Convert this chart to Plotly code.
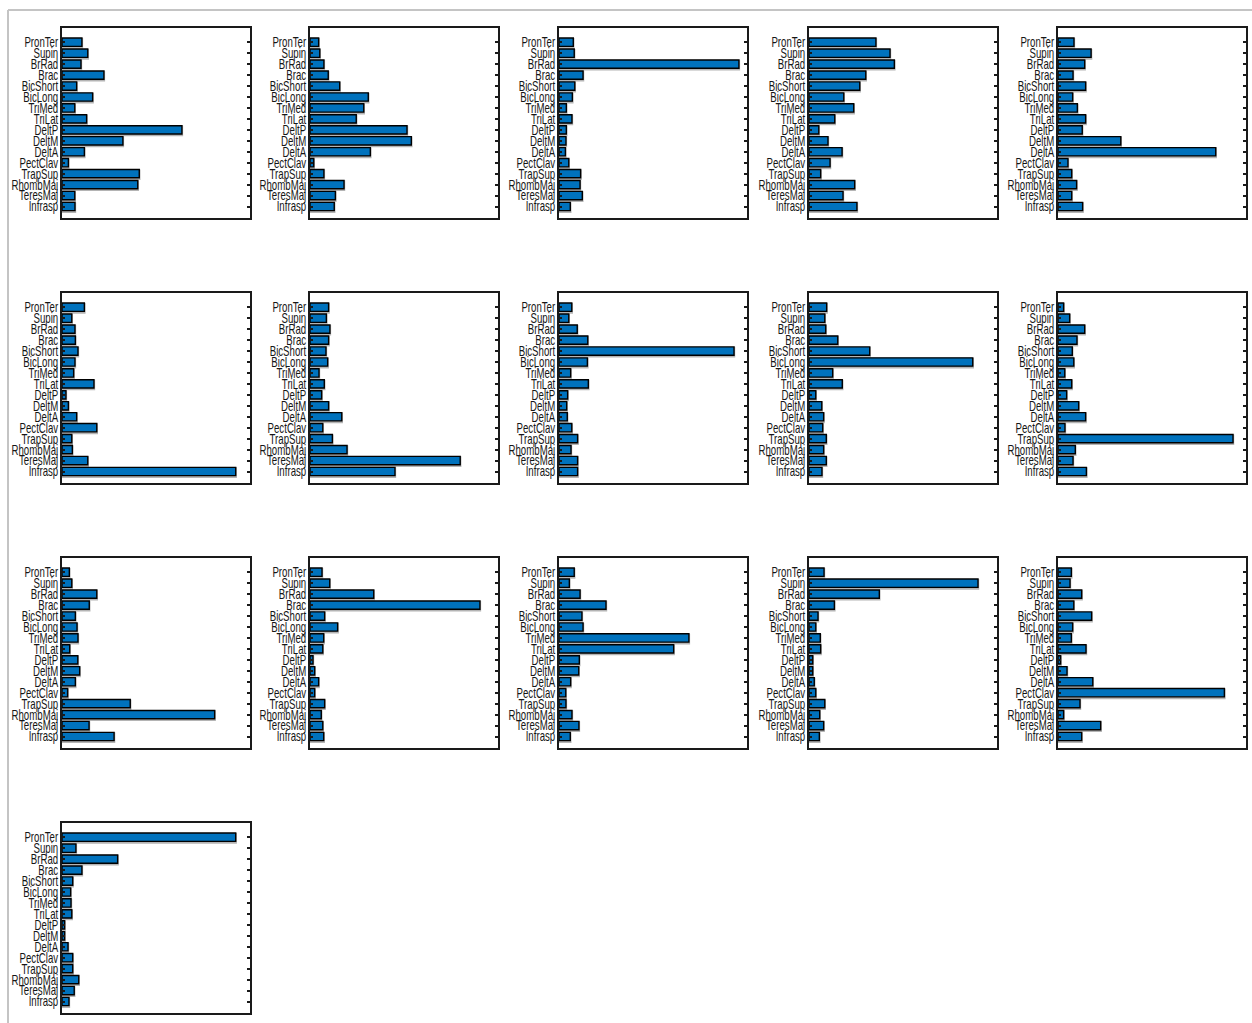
import plotly.graph_objects as go

muscles = ["PronTer", "Supin", "BrRad", "Brac", "BicShort", "BicLong", "TriMed", "TriLat",
           "DeltP", "DeltM", "DeltA", "PectClav", "TrapSup", "RhombMaj", "TeresMaj", "Infrasp"]

w01 = [0.106, 0.137, 0.101, 0.223, 0.078, 0.163, 0.068, 0.131, 0.638, 0.324, 0.119, 0.034, 0.411, 0.403, 0.068, 0.069]
w02 = [0.046, 0.052, 0.074, 0.097, 0.158, 0.310, 0.286, 0.246, 0.516, 0.539, 0.321, 0.020, 0.074, 0.181, 0.135, 0.129]
w03 = [0.076, 0.081, 0.957, 0.128, 0.084, 0.071, 0.039, 0.069, 0.039, 0.037, 0.034, 0.052, 0.115, 0.112, 0.124, 0.060]
w04 = [0.356, 0.431, 0.454, 0.302, 0.270, 0.185, 0.238, 0.137, 0.052, 0.101, 0.176, 0.112, 0.062, 0.243, 0.181, 0.255]
w05 = [0.085, 0.176, 0.142, 0.080, 0.147, 0.078, 0.103, 0.147, 0.129, 0.334, 0.839, 0.053, 0.073, 0.099, 0.073, 0.131]
w06 = [0.119, 0.052, 0.069, 0.071, 0.085, 0.069, 0.062, 0.170, 0.021, 0.034, 0.078, 0.185, 0.052, 0.055, 0.137, 0.924]
w07 = [0.099, 0.087, 0.106, 0.099, 0.085, 0.094, 0.048, 0.076, 0.062, 0.099, 0.169, 0.068, 0.119, 0.197, 0.799, 0.452]
w08 = [0.068, 0.052, 0.097, 0.153, 0.931, 0.151, 0.062, 0.156, 0.046, 0.041, 0.044, 0.068, 0.099, 0.064, 0.099, 0.099]
w09 = [0.094, 0.084, 0.089, 0.153, 0.323, 0.871, 0.126, 0.177, 0.036, 0.068, 0.078, 0.073, 0.092, 0.078, 0.092, 0.069]
w10 = [0.030, 0.062, 0.142, 0.101, 0.076, 0.084, 0.036, 0.073, 0.046, 0.110, 0.147, 0.037, 0.931, 0.092, 0.080, 0.151]
w11 = [0.039, 0.052, 0.185, 0.145, 0.071, 0.080, 0.085, 0.041, 0.084, 0.094, 0.071, 0.030, 0.363, 0.812, 0.144, 0.277]
w12 = [0.064, 0.105, 0.339, 0.904, 0.078, 0.147, 0.073, 0.068, 0.016, 0.025, 0.046, 0.025, 0.078, 0.060, 0.068, 0.073]
w13 = [0.081, 0.055, 0.112, 0.250, 0.122, 0.128, 0.691, 0.610, 0.108, 0.105, 0.062, 0.036, 0.037, 0.069, 0.106, 0.060]
w14 = [0.080, 0.899, 0.374, 0.135, 0.048, 0.036, 0.060, 0.062, 0.020, 0.020, 0.028, 0.036, 0.084, 0.057, 0.078, 0.055]
w15 = [0.071, 0.064, 0.126, 0.084, 0.179, 0.078, 0.071, 0.149, 0.014, 0.048, 0.185, 0.885, 0.117, 0.030, 0.227, 0.126]
w16 = [0.924, 0.074, 0.296, 0.106, 0.057, 0.046, 0.048, 0.052, 0.014, 0.014, 0.032, 0.057, 0.057, 0.089, 0.065, 0.037]

synergies = [w01, w02, w03, w04, w05, w06, w07, w08, w09, w10, w11, w12, w13, w14, w15, w16]

# ---- layout (pixels) ----
W, H = 1252, 1023
col_left = [62, 310, 559, 809, 1058]
row_top = [28, 293, 558, 823]
pw, ph = 188, 190
ncols = 5

BLUE = "#0072BD"
FONT = "Liberation Sans, Arial, sans-serif"
BAR_W = 0.76

fig = go.Figure()
layout = {}
for k, vals in enumerate(synergies):
    r, c = divmod(k, ncols)
    idx = "" if k == 0 else str(k + 1)
    xa, ya = "x" + idx, "y" + idx
    # soft grey drop shadow under each bar
    fig.add_trace(go.Bar(
        x=vals, y=muscles, orientation="h", xaxis=xa, yaxis=ya,
        width=BAR_W, offset=-BAR_W / 2 + 0.1,
        marker=dict(color="#a8a8a8", line=dict(color="#b4b4b4", width=2.4)),
        showlegend=False, hoverinfo="skip"))
    fig.add_trace(go.Bar(
        x=vals, y=muscles, orientation="h", xaxis=xa, yaxis=ya,
        width=BAR_W, offset=-BAR_W / 2,
        marker=dict(color=BLUE, line=dict(color="black", width=1.4)),
        showlegend=False, hoverinfo="x+y"))
    x0 = col_left[c] / W
    x1 = (col_left[c] + pw) / W
    y1 = 1 - row_top[r] / H
    y0 = 1 - (row_top[r] + ph) / H
    layout["xaxis" + idx] = dict(
        domain=[x0, x1], anchor=ya, range=[0, 1], showticklabels=False, ticks="",
        showgrid=False, zeroline=False, showline=True, linecolor="#1a1a1a",
        linewidth=2, mirror=True, fixedrange=True, automargin=False)
    layout["yaxis" + idx] = dict(
        domain=[y0, y1], anchor=xa, type="category", range=[16.05, -1.3],
        tickmode="array", tickvals=muscles, ticktext=muscles,
        showgrid=False, zeroline=False, showline=True, linecolor="#1a1a1a",
        linewidth=2, mirror="ticks", ticks="inside", ticklen=3, tickwidth=2,
        tickcolor="#1a1a1a", ticklabelstandoff=0, automargin=False,
        tickfont=dict(family=FONT, size=14, color="#161616"), fixedrange=True)

fig.update_layout(**layout)
fig.update_layout(
    width=W, height=H, autosize=False, margin=dict(l=0, r=0, t=0, b=0, autoexpand=False),
    paper_bgcolor="white", plot_bgcolor="white", barmode="overlay",
    shapes=[
        dict(type="line", xref="paper", yref="paper", x0=8 / W, x1=1, y0=1 - 10 / H, y1=1 - 10 / H,
             line=dict(color="#c4c4c4", width=2)),
        dict(type="line", xref="paper", yref="paper", x0=8 / W, x1=8 / W, y0=0, y1=1 - 10 / H,
             line=dict(color="#c4c4c4", width=2)),
    ],
)

# condense the tick label text horizontally (narrow typeface look), keeping it real text
post = """
document.documentElement.style.overflow = 'hidden';
document.body.style.margin = '0';
document.body.style.overflow = 'hidden';
var gd = document.getElementById('{plot_id}');
function squeeze() {
  gd.querySelectorAll('.yaxislayer-above text').forEach(function (t) {
    var tr = t.getAttribute('transform') || '';
    if (tr.indexOf('scale(') >= 0) return;
    var x = parseFloat(t.getAttribute('x')) || 0;
    t.setAttribute('transform', tr + ' translate(' + (x + 1) + ',0) scale(0.69,1) translate(' + (-x) + ',0)');
  });
}
squeeze();
gd.on('plotly_afterplot', squeeze);
"""

fig.write_html("out.html", post_script=post,
               config={"displayModeBar": False, "responsive": False})
